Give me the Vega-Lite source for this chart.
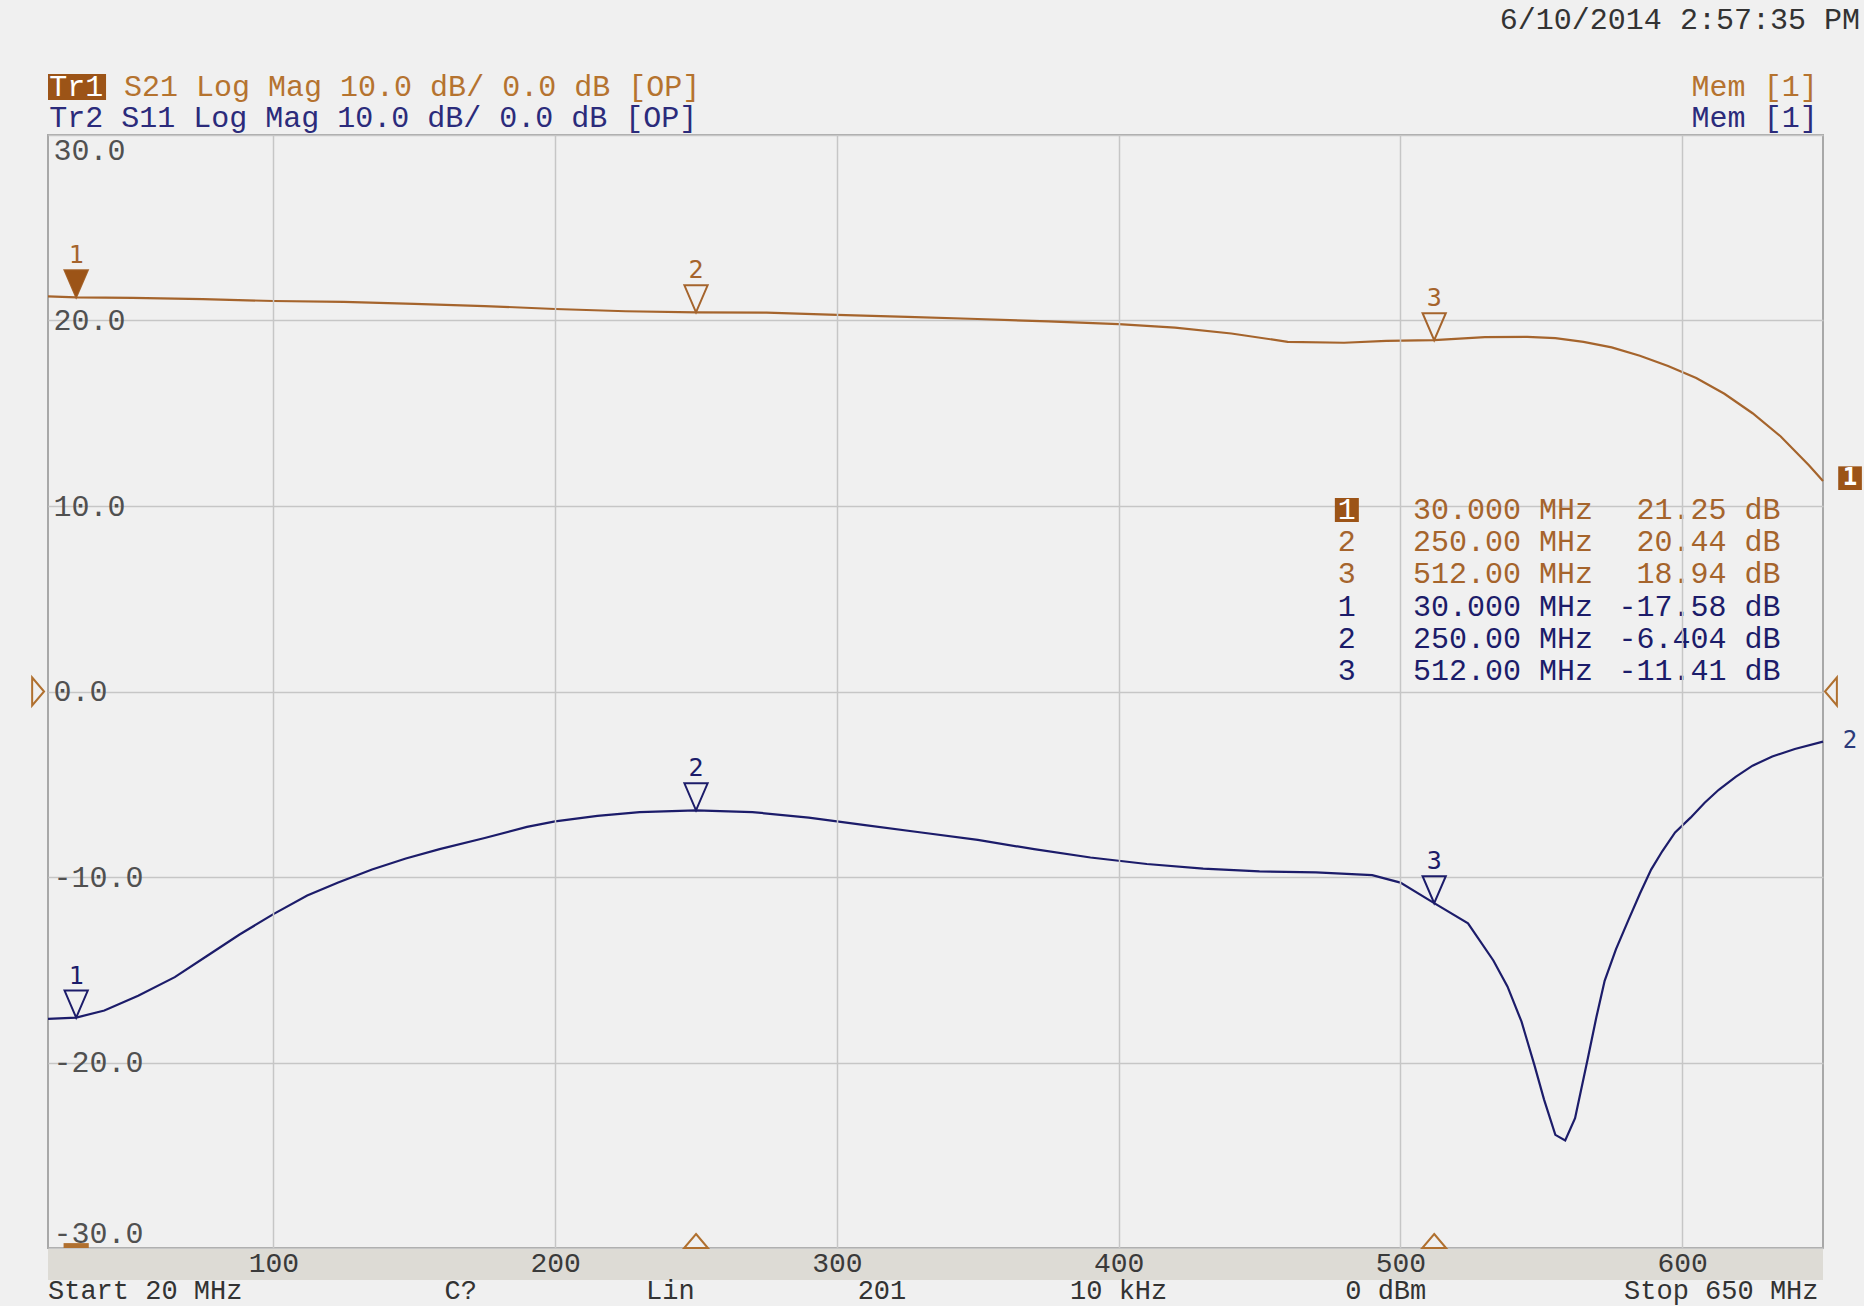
{
  "$schema": "https://vega.github.io/schema/vega-lite/v6.json",
  "width": 1775,
  "height": 1113,
  "autosize": "none",
  "padding": {"left": 48, "top": 135, "right": 41, "bottom": 58},
  "background": "#f0f0f0",
  "config": {
    "view": {"stroke": "#a8a8a8", "strokeWidth": 2, "fill": "#f0f0f0"},
    "font": "Liberation Mono",
    "text": {"font": "Liberation Mono"}
  },
  "datasets": {
    "traces": [
      {"trace": "S21", "freq": 20, "db": 21.3},
      {"trace": "S21", "freq": 30, "db": 21.25},
      {"trace": "S21", "freq": 50, "db": 21.22},
      {"trace": "S21", "freq": 75, "db": 21.15},
      {"trace": "S21", "freq": 100, "db": 21.05},
      {"trace": "S21", "freq": 125, "db": 21.0},
      {"trace": "S21", "freq": 150, "db": 20.9},
      {"trace": "S21", "freq": 175, "db": 20.78},
      {"trace": "S21", "freq": 200, "db": 20.62},
      {"trace": "S21", "freq": 225, "db": 20.5},
      {"trace": "S21", "freq": 250, "db": 20.44},
      {"trace": "S21", "freq": 275, "db": 20.42},
      {"trace": "S21", "freq": 300, "db": 20.3},
      {"trace": "S21", "freq": 325, "db": 20.2},
      {"trace": "S21", "freq": 350, "db": 20.08},
      {"trace": "S21", "freq": 375, "db": 19.95},
      {"trace": "S21", "freq": 400, "db": 19.8},
      {"trace": "S21", "freq": 420, "db": 19.62},
      {"trace": "S21", "freq": 440, "db": 19.3},
      {"trace": "S21", "freq": 460, "db": 18.85},
      {"trace": "S21", "freq": 480, "db": 18.8},
      {"trace": "S21", "freq": 495, "db": 18.9},
      {"trace": "S21", "freq": 512, "db": 18.94},
      {"trace": "S21", "freq": 530, "db": 19.1},
      {"trace": "S21", "freq": 545, "db": 19.12},
      {"trace": "S21", "freq": 555, "db": 19.05},
      {"trace": "S21", "freq": 565, "db": 18.85},
      {"trace": "S21", "freq": 575, "db": 18.55},
      {"trace": "S21", "freq": 585, "db": 18.1},
      {"trace": "S21", "freq": 595, "db": 17.55},
      {"trace": "S21", "freq": 605, "db": 16.9},
      {"trace": "S21", "freq": 615, "db": 16.05},
      {"trace": "S21", "freq": 625, "db": 15.0},
      {"trace": "S21", "freq": 635, "db": 13.75},
      {"trace": "S21", "freq": 645, "db": 12.2},
      {"trace": "S21", "freq": 650, "db": 11.35},
      {"trace": "S11", "freq": 20, "db": -17.65},
      {"trace": "S11", "freq": 30, "db": -17.58},
      {"trace": "S11", "freq": 40, "db": -17.2},
      {"trace": "S11", "freq": 52, "db": -16.4},
      {"trace": "S11", "freq": 65, "db": -15.4},
      {"trace": "S11", "freq": 76, "db": -14.3},
      {"trace": "S11", "freq": 88, "db": -13.1},
      {"trace": "S11", "freq": 100, "db": -12.0},
      {"trace": "S11", "freq": 112, "db": -11.0},
      {"trace": "S11", "freq": 123, "db": -10.3},
      {"trace": "S11", "freq": 135, "db": -9.6},
      {"trace": "S11", "freq": 147, "db": -9.0},
      {"trace": "S11", "freq": 159, "db": -8.5},
      {"trace": "S11", "freq": 175, "db": -7.9},
      {"trace": "S11", "freq": 190, "db": -7.3},
      {"trace": "S11", "freq": 200, "db": -7.0},
      {"trace": "S11", "freq": 215, "db": -6.7},
      {"trace": "S11", "freq": 230, "db": -6.5},
      {"trace": "S11", "freq": 250, "db": -6.404},
      {"trace": "S11", "freq": 270, "db": -6.5},
      {"trace": "S11", "freq": 290, "db": -6.8},
      {"trace": "S11", "freq": 310, "db": -7.2},
      {"trace": "S11", "freq": 330, "db": -7.6},
      {"trace": "S11", "freq": 350, "db": -8.0},
      {"trace": "S11", "freq": 370, "db": -8.5},
      {"trace": "S11", "freq": 390, "db": -8.95},
      {"trace": "S11", "freq": 410, "db": -9.3},
      {"trace": "S11", "freq": 430, "db": -9.55},
      {"trace": "S11", "freq": 450, "db": -9.7},
      {"trace": "S11", "freq": 470, "db": -9.75},
      {"trace": "S11", "freq": 490, "db": -9.9},
      {"trace": "S11", "freq": 500, "db": -10.3},
      {"trace": "S11", "freq": 512, "db": -11.41},
      {"trace": "S11", "freq": 524, "db": -12.5},
      {"trace": "S11", "freq": 533, "db": -14.5},
      {"trace": "S11", "freq": 538, "db": -15.9},
      {"trace": "S11", "freq": 543, "db": -17.8},
      {"trace": "S11", "freq": 547.5, "db": -20.1},
      {"trace": "S11", "freq": 551, "db": -22.0},
      {"trace": "S11", "freq": 555, "db": -23.9},
      {"trace": "S11", "freq": 558.5, "db": -24.2},
      {"trace": "S11", "freq": 562, "db": -23.0},
      {"trace": "S11", "freq": 566.5, "db": -19.8},
      {"trace": "S11", "freq": 569.5, "db": -17.6},
      {"trace": "S11", "freq": 572.5, "db": -15.6},
      {"trace": "S11", "freq": 576.5, "db": -13.9},
      {"trace": "S11", "freq": 581, "db": -12.3},
      {"trace": "S11", "freq": 585, "db": -10.9},
      {"trace": "S11", "freq": 589, "db": -9.6},
      {"trace": "S11", "freq": 593, "db": -8.6},
      {"trace": "S11", "freq": 597.5, "db": -7.6},
      {"trace": "S11", "freq": 603, "db": -6.8},
      {"trace": "S11", "freq": 608, "db": -6.0},
      {"trace": "S11", "freq": 613, "db": -5.3},
      {"trace": "S11", "freq": 619, "db": -4.6},
      {"trace": "S11", "freq": 625, "db": -4.0},
      {"trace": "S11", "freq": 632, "db": -3.5},
      {"trace": "S11", "freq": 640, "db": -3.1},
      {"trace": "S11", "freq": 650, "db": -2.7}
    ],
    "markers": [
      {"trace": "S21", "n": "1", "row": 1, "freq": 30, "db": 21.25, "f": "30.000 MHz", "v": "21.25 dB", "active": true},
      {"trace": "S21", "n": "2", "row": 2, "freq": 250, "db": 20.44, "f": "250.00 MHz", "v": "20.44 dB", "active": false},
      {"trace": "S21", "n": "3", "row": 3, "freq": 512, "db": 18.94, "f": "512.00 MHz", "v": "18.94 dB", "active": false},
      {"trace": "S11", "n": "1", "row": 4, "freq": 30, "db": -17.58, "f": "30.000 MHz", "v": "-17.58 dB", "active": false},
      {"trace": "S11", "n": "2", "row": 5, "freq": 250, "db": -6.404, "f": "250.00 MHz", "v": "-6.404 dB", "active": false},
      {"trace": "S11", "n": "3", "row": 6, "freq": 512, "db": -11.41, "f": "512.00 MHz", "v": "-11.41 dB", "active": false}
    ]
  },
  "resolve": {"scale": {"y": "independent"}},
  "layer": [
    {
      "layer": [
        {
          "data": {"values": [{}]},
          "mark": {"type": "rect", "color": "#dddbd5"},
          "encoding": {
            "x": {"datum": 20, "type": "quantitative"},
            "x2": {"datum": 650},
            "y": {"datum": -30.05, "type": "quantitative"},
            "y2": {"datum": -31.72}
          }
        },
        {
          "data": {"name": "traces"},
          "mark": {"type": "line", "strokeWidth": 2.2, "interpolate": "linear"},
          "encoding": {
            "x": {
              "field": "freq", "type": "quantitative",
              "scale": {"domain": [20, 650], "nice": false, "zero": false},
              "axis": {
                "values": [100, 200, 300, 400, 500, 600], "format": "d",
                "grid": true, "gridColor": "#c6c6c6", "gridWidth": 1.5,
                "domain": false, "ticks": false, "tickSize": 0, "zindex": 1,
                "labelPadding": 15, "labelBaseline": "middle",
                "labelFont": "Liberation Mono", "labelFontSize": 28, "labelColor": "#3a3a3a",
                "labelFlush": false, "labelOverlap": false, "title": null
              }
            },
            "y": {
              "field": "db", "type": "quantitative",
              "scale": {"domain": [-30, 30], "nice": false, "zero": false},
              "axis": {
                "values": [-30, -20, -10, 0, 10, 20, 30],
                "grid": true, "gridColor": "#c6c6c6", "gridWidth": 1.5,
                "domain": false, "ticks": false, "tickSize": 0,
                "labelAlign": "left", "labelPadding": -5, "labelFlush": true,
                "labelExpr": "replace(format(datum.value, '.1f'), '\u2212', '-')",
                "labelFont": "Liberation Mono", "labelFontSize": 30, "labelColor": "#505050",
                "labelOverlap": false, "title": null
              }
            },
            "color": {
              "field": "trace", "type": "nominal",
              "scale": {"domain": ["S21", "S11"], "range": ["#a5642c", "#1c1c6a"]},
              "legend": null
            }
          }
        },
        {
          "data": {"name": "markers"},
          "mark": {"type": "point", "shape": "M-0.43,-1L0.43,-1L0,0Z", "size": 2916, "filled": false, "strokeWidth": 2, "opacity": 1},
          "encoding": {
            "x": {"field": "freq", "type": "quantitative", "title": null},
            "y": {"field": "db", "type": "quantitative", "title": null},
            "color": {"field": "trace", "type": "nominal", "legend": null}
          }
        },
        {
          "data": {"name": "markers"},
          "transform": [{"filter": "datum.active"}],
          "mark": {"type": "point", "shape": "M-0.43,-1L0.43,-1L0,0Z", "size": 2916, "filled": true, "color": "#9c5417", "opacity": 1},
          "encoding": {
            "x": {"field": "freq", "type": "quantitative", "title": null},
            "y": {"field": "db", "type": "quantitative", "title": null}
          }
        },
        {
          "data": {"name": "markers"},
          "mark": {"type": "text", "font": "DejaVu Sans Mono", "fontSize": 25, "baseline": "middle", "align": "center", "dy": -42},
          "encoding": {
            "x": {"field": "freq", "type": "quantitative", "title": null},
            "y": {"field": "db", "type": "quantitative", "title": null},
            "text": {"field": "n"},
            "color": {"field": "trace", "type": "nominal", "legend": null}
          }
        },
        {
          "data": {"name": "markers"},
          "transform": [{"filter": "datum.trace == 'S21' && !datum.active"}],
          "mark": {"type": "point", "shape": "M0,-1L0.85,0L-0.85,0Z", "size": 784, "filled": false, "strokeWidth": 2, "color": "#b0702f", "opacity": 1},
          "encoding": {
            "x": {"field": "freq", "type": "quantitative", "title": null},
            "y": {"datum": -30, "type": "quantitative"}
          }
        },
        {
          "data": {"name": "markers"},
          "transform": [{"filter": "datum.active"}],
          "mark": {"type": "point", "shape": "M-0.9,-0.35L0.9,-0.35L0.9,0L-0.9,0Z", "size": 784, "filled": true, "color": "#b0702f", "opacity": 1},
          "encoding": {
            "x": {"field": "freq", "type": "quantitative", "title": null},
            "y": {"datum": -30, "type": "quantitative"}
          }
        },
        {
          "data": {"values": [{}]},
          "mark": {"type": "point", "shape": "M-0.85,-1L0,0L-0.85,1Z", "size": 784, "filled": false, "strokeWidth": 2, "color": "#b0702f", "opacity": 1},
          "encoding": {
            "x": {"datum": 18.6, "type": "quantitative"},
            "y": {"datum": 0, "type": "quantitative"}
          }
        },
        {
          "data": {"values": [{}]},
          "mark": {"type": "point", "shape": "M0.85,-1L0,0L0.85,1Z", "size": 784, "filled": false, "strokeWidth": 2, "color": "#b0702f", "opacity": 1},
          "encoding": {
            "x": {"datum": 650.7, "type": "quantitative"},
            "y": {"datum": 0, "type": "quantitative"}
          }
        },
        {
          "data": {"values": [{}]},
          "mark": {"type": "point", "shape": "square", "size": 560, "filled": true, "color": "#9c5417", "opacity": 1},
          "encoding": {
            "x": {"datum": 659.6, "type": "quantitative"},
            "y": {"datum": 11.5, "type": "quantitative"}
          }
        },
        {
          "data": {"values": [{}]},
          "mark": {"type": "text", "font": "DejaVu Sans Mono", "fontSize": 24, "fontWeight": "bold", "color": "#ffffff", "align": "center", "baseline": "middle", "text": "1"},
          "encoding": {
            "x": {"datum": 659.6, "type": "quantitative"},
            "y": {"datum": 11.5, "type": "quantitative"}
          }
        },
        {
          "data": {"values": [{}]},
          "mark": {"type": "text", "font": "DejaVu Sans Mono", "fontSize": 24, "color": "#2b3a7a", "align": "center", "baseline": "middle", "text": "2"},
          "encoding": {
            "x": {"datum": 659.6, "type": "quantitative"},
            "y": {"datum": -2.67, "type": "quantitative"}
          }
        },
        {
          "data": {"values": [{}]},
          "mark": {"type": "rect", "color": "#9c5417"},
          "encoding": {
            "x": {"datum": 20, "type": "quantitative"},
            "x2": {"datum": 40.6},
            "y": {"datum": 33.29, "type": "quantitative"},
            "y2": {"datum": 31.89}
          }
        },
        {
          "data": {"values": [{}]},
          "mark": {"type": "text", "fontSize": 30, "color": "#ffffff", "align": "left", "baseline": "middle", "text": "Tr1"},
          "encoding": {
            "x": {"datum": 20.4, "type": "quantitative"},
            "y": {"datum": 32.59, "type": "quantitative"}
          }
        },
        {
          "data": {"values": [{}]},
          "mark": {"type": "text", "fontSize": 30, "color": "#b5732f", "align": "left", "baseline": "middle", "text": "S21 Log Mag 10.0 dB/ 0.0 dB [OP]"},
          "encoding": {
            "x": {"datum": 47, "type": "quantitative"},
            "y": {"datum": 32.59, "type": "quantitative"}
          }
        },
        {
          "data": {"values": [{}]},
          "mark": {"type": "text", "fontSize": 30, "color": "#2b2b7b", "align": "left", "baseline": "middle", "text": "Tr2 S11 Log Mag 10.0 dB/ 0.0 dB [OP]"},
          "encoding": {
            "x": {"datum": 20.4, "type": "quantitative"},
            "y": {"datum": 30.92, "type": "quantitative"}
          }
        },
        {
          "data": {"values": [{}]},
          "mark": {"type": "text", "fontSize": 30, "color": "#b5732f", "align": "right", "baseline": "middle", "text": "Mem [1]"},
          "encoding": {
            "x": {"datum": 648.1, "type": "quantitative"},
            "y": {"datum": 32.59, "type": "quantitative"}
          }
        },
        {
          "data": {"values": [{}]},
          "mark": {"type": "text", "fontSize": 30, "color": "#2b2b7b", "align": "right", "baseline": "middle", "text": "Mem [1]"},
          "encoding": {
            "x": {"datum": 648.1, "type": "quantitative"},
            "y": {"datum": 30.92, "type": "quantitative"}
          }
        },
        {
          "data": {"values": [{}]},
          "mark": {"type": "text", "fontSize": 30, "color": "#333333", "align": "right", "baseline": "middle", "text": "6/10/2014 2:57:35 PM"},
          "encoding": {
            "x": {"datum": 663.1, "type": "quantitative"},
            "y": {"datum": 36.2, "type": "quantitative"}
          }
        },
        {
          "data": {"values": [{}]},
          "mark": {"type": "text", "fontSize": 27, "color": "#333333", "align": "left", "baseline": "middle", "text": "Start 20 MHz"},
          "encoding": {
            "x": {"datum": 20, "type": "quantitative"},
            "y": {"datum": -32.32, "type": "quantitative"}
          }
        },
        {
          "data": {"values": [{}]},
          "mark": {"type": "text", "fontSize": 27, "color": "#333333", "align": "center", "baseline": "middle", "text": "C?"},
          "encoding": {
            "x": {"datum": 166.5, "type": "quantitative"},
            "y": {"datum": -32.32, "type": "quantitative"}
          }
        },
        {
          "data": {"values": [{}]},
          "mark": {"type": "text", "fontSize": 27, "color": "#333333", "align": "center", "baseline": "middle", "text": "Lin"},
          "encoding": {
            "x": {"datum": 240.9, "type": "quantitative"},
            "y": {"datum": -32.32, "type": "quantitative"}
          }
        },
        {
          "data": {"values": [{}]},
          "mark": {"type": "text", "fontSize": 27, "color": "#333333", "align": "center", "baseline": "middle", "text": "201"},
          "encoding": {
            "x": {"datum": 316, "type": "quantitative"},
            "y": {"datum": -32.32, "type": "quantitative"}
          }
        },
        {
          "data": {"values": [{}]},
          "mark": {"type": "text", "fontSize": 27, "color": "#333333", "align": "center", "baseline": "middle", "text": "10 kHz"},
          "encoding": {
            "x": {"datum": 400, "type": "quantitative"},
            "y": {"datum": -32.32, "type": "quantitative"}
          }
        },
        {
          "data": {"values": [{}]},
          "mark": {"type": "text", "fontSize": 27, "color": "#333333", "align": "center", "baseline": "middle", "text": "0 dBm"},
          "encoding": {
            "x": {"datum": 494.8, "type": "quantitative"},
            "y": {"datum": -32.32, "type": "quantitative"}
          }
        },
        {
          "data": {"values": [{}]},
          "mark": {"type": "text", "fontSize": 27, "color": "#333333", "align": "right", "baseline": "middle", "text": "Stop 650 MHz"},
          "encoding": {
            "x": {"datum": 648.4, "type": "quantitative"},
            "y": {"datum": -32.32, "type": "quantitative"}
          }
        }
      ]
    },
    {
      "data": {"name": "markers"},
      "layer": [
        {
          "transform": [{"filter": "datum.active"}],
          "mark": {"type": "point", "shape": "square", "size": 576, "filled": true, "color": "#9c5417", "opacity": 1},
          "encoding": {
            "x": {"datum": 481, "type": "quantitative"},
            "y": {"field": "row", "type": "quantitative", "scale": {"domain": [-10.646, 23.919], "reverse": true, "nice": false, "zero": false}, "axis": null}
          }
        },
        {
          "mark": {"type": "text", "fontSize": 30, "align": "center", "baseline": "middle"},
          "encoding": {
            "x": {"datum": 481, "type": "quantitative"},
            "y": {"field": "row", "type": "quantitative", "axis": null},
            "text": {"field": "n"},
            "color": {"condition": {"test": "datum.active", "value": "#ffffff"}, "field": "trace", "type": "nominal", "legend": null}
          }
        },
        {
          "mark": {"type": "text", "fontSize": 30, "align": "right", "baseline": "middle"},
          "encoding": {
            "x": {"datum": 568.4, "type": "quantitative"},
            "y": {"field": "row", "type": "quantitative", "axis": null},
            "text": {"field": "f"},
            "color": {"field": "trace", "type": "nominal", "legend": null}
          }
        },
        {
          "mark": {"type": "text", "fontSize": 30, "align": "right", "baseline": "middle"},
          "encoding": {
            "x": {"datum": 634.9, "type": "quantitative"},
            "y": {"field": "row", "type": "quantitative", "axis": null},
            "text": {"field": "v"},
            "color": {"field": "trace", "type": "nominal", "legend": null}
          }
        }
      ]
    }
  ]
}
